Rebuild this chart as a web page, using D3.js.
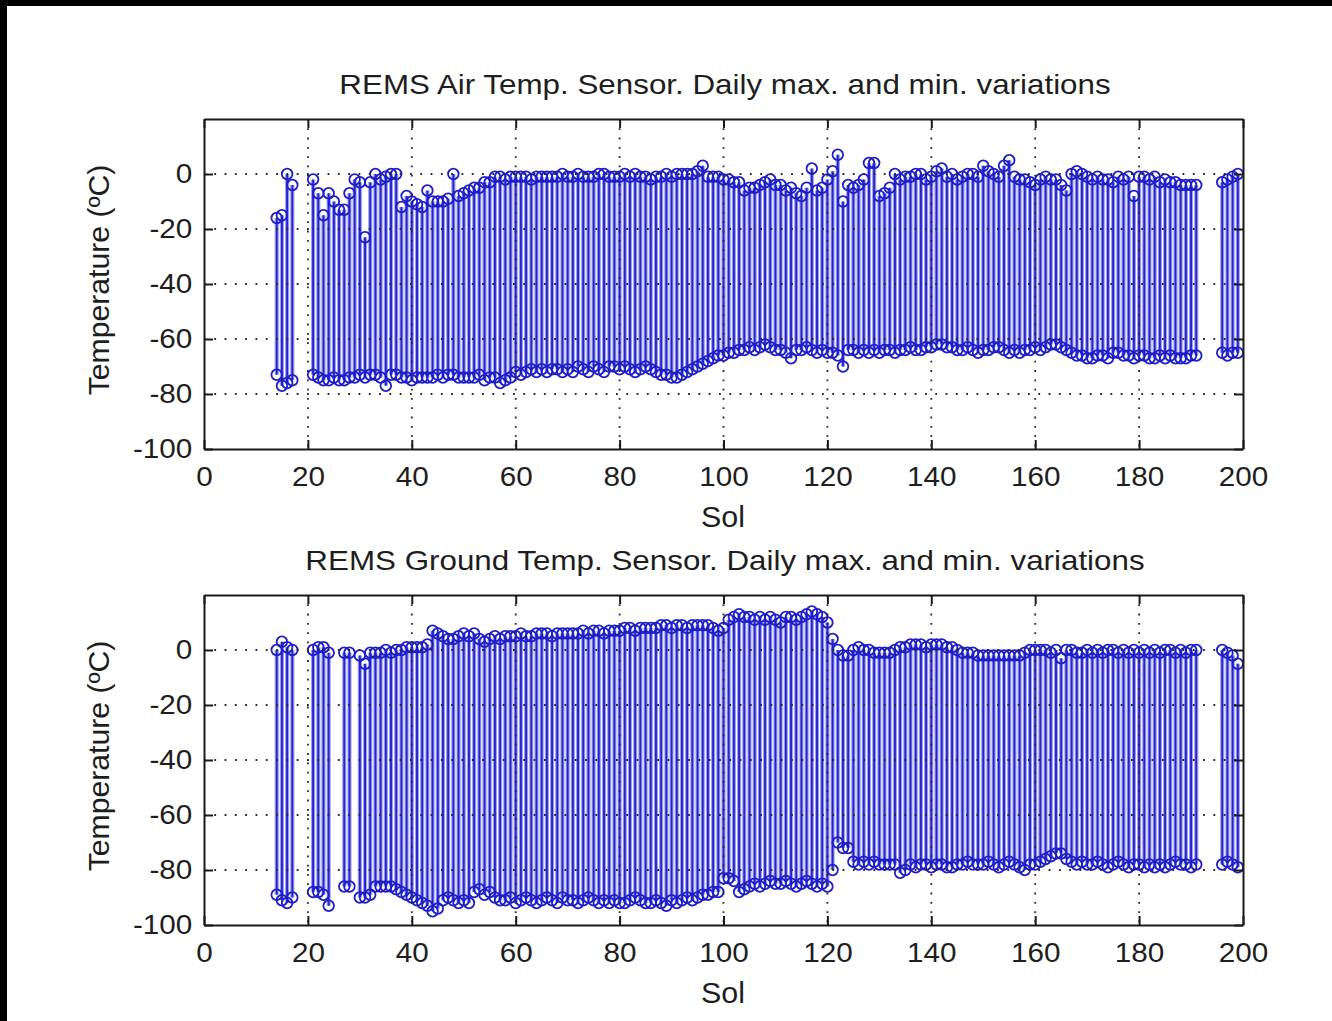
<!DOCTYPE html>
<html>
<head>
<meta charset="utf-8">
<script src="https://cdn.jsdelivr.net/npm/d3@7"></script>
<style>
  html, body { margin: 0; padding: 0; background: #000; }
  svg { display: block; }
  text { font-family: "Liberation Sans", Arial, sans-serif; fill: #1e1e1e; }
</style>
</head>
<body>
<svg id="chart" width="1332" height="1021"></svg>
<script>
// sols with data, as [first, last] runs
var airRuns = [[14, 17], [21, 191], [196, 199]];
var groundRuns = [[14, 17], [21, 24], [27, 28], [30, 191], [196, 199]];

// REMS air temperature, daily max (degC), one value per sol in airRuns order
var airMax = [
	-16, -15, 0, -4,
	-2, -7, -15, -7, -10, -13, -13, -7, -2, -3,          // 21-30
	-23, -3, 0, -2, -1, 0, 0, -12, -8, -10,              // 31-40
	-11, -12, -6, -10, -10, -10, -9, 0, -8, -7,          // 41-50
	-6, -5, -5, -3, -3, -1, -1, -2, -1, -1,              // 51-60
	-1, -1, -2, -1, -1, -1, -1, -1, 0, -1,               // 61-70
	-1, 0, -1, -1, -1, 0, 0, -1, -1, -1,                 // 71-80
	0, -1, 0, -1, -1, -2, -1, -1, 0, -1,                 // 81-90
	0, 0, 0, 0, 1, 3, -1, -1, -1, -2,                    // 91-100
	-2, -3, -3, -6, -5, -5, -4, -3, -2, -4,              // 101-110
	-4, -6, -5, -7, -8, -5, 2, -6, -5, -2,               // 111-120
	1, 7, -10, -4, -5, -4, -2, 4, 4, -8,                 // 121-130
	-7, -5, 0, -2, -1, -1, 0, 0, -2, -1,                 // 131-140
	1, 2, -1, 0, -2, -1, 0, 0, -1, 3,                    // 141-150
	1, 0, -1, 3, 5, -1, -2, -2, -3, -4,                  // 151-160
	-2, -1, -2, -2, -4, -6, 0, 1, 0, -1,                 // 161-170
	-2, -1, -2, -2, -3, -1, -2, -1, -8, -1,              // 171-180
	-1, -2, -1, -3, -2, -3, -3, -4, -4, -4,              // 181-190
	-4,
	-3, -2, -1, 0
];
// REMS air temperature, daily min (degC)
var airMin = [
	-73, -77, -76, -75,
	-73, -74, -75, -75, -74, -75, -75, -74, -74, -73,
	-74, -73, -73, -74, -77, -73, -73, -74, -74, -75,
	-74, -74, -74, -74, -73, -74, -73, -73, -74, -74,
	-74, -74, -73, -75, -74, -74, -76, -75, -74, -72,
	-73, -72, -71, -72, -71, -72, -71, -71, -72, -71,
	-72, -70, -71, -72, -70, -71, -72, -70, -70, -71,
	-70, -71, -72, -71, -70, -71, -72, -73, -73, -74,
	-74, -73, -72, -71, -70, -69, -68, -67, -66, -66,
	-65, -65, -64, -64, -63, -64, -63, -62, -63, -64,
	-64, -65, -67, -64, -64, -63, -64, -65, -64, -65,
	-65, -66, -70, -64, -64, -65, -64, -65, -64, -65,
	-64, -64, -65, -64, -64, -63, -64, -64, -63, -63,
	-62, -62, -63, -63, -64, -64, -63, -64, -65, -64,
	-64, -63, -63, -64, -65, -64, -65, -64, -64, -63,
	-64, -63, -62, -62, -63, -64, -65, -66, -66, -67,
	-67, -66, -66, -67, -65, -65, -66, -66, -67, -66,
	-66, -67, -67, -66, -67, -66, -67, -67, -67, -66,
	-66,
	-65, -66, -65, -65
];

// REMS ground temperature, daily max (degC), one value per sol in groundRuns order
var groundMax = [
	0, 3, 1, 0,
	0, 1, 1, -1,
	-1, -1,
	-2, -5, -1, -1, -1, 0, -1, 0, 0, 1, 1,               // 30-40
	1, 1, 2, 7, 6, 5, 4, 4, 5, 6,                        // 41-50
	5, 6, 4, 3, 4, 5, 4, 5, 5, 5,                        // 51-60
	6, 5, 5, 6, 6, 6, 5, 6, 6, 6,                        // 61-70
	6, 6, 7, 6, 7, 7, 6, 7, 7, 7,                        // 71-80
	8, 8, 7, 8, 8, 8, 8, 9, 9, 8,                        // 81-90
	9, 9, 8, 9, 9, 9, 9, 8, 7, 8,                        // 91-100
	11, 12, 13, 12, 12, 11, 12, 11, 12, 11,              // 101-110
	10, 12, 12, 11, 12, 13, 14, 13, 12, 10,              // 111-120
	4, 0, -2, -2, 0, 1, 0, 0, -1, -1,                    // 121-130
	-1, -1, 0, 1, 1, 2, 2, 2, 1, 2,                      // 131-140
	2, 2, 1, 1, 0, -1, -1, -1, -2, -2,                   // 141-150
	-2, -2, -2, -2, -2, -2, -2, -1, 0, 0,                // 151-160
	0, 0, -1, 0, -3, 0, 0, -1, -1, 0,                    // 161-170
	-1, 0, -1, 0, 0, -1, 0, -1, 0, -1,                   // 171-180
	0, -1, 0, -1, 0, 0, -1, 0, -1, 0,                    // 181-190
	0,
	0, -1, -2, -5
];
// REMS ground temperature, daily min (degC)
var groundMin = [
	-89, -91, -92, -90,
	-88, -88, -89, -93,
	-86, -86,
	-90, -90, -89, -86, -86, -86, -86, -87, -88, -89, -90,
	-91, -92, -93, -95, -94, -91, -90, -91, -92, -91,
	-92, -88, -87, -89, -88, -90, -91, -91, -90, -92,
	-91, -90, -91, -92, -91, -90, -91, -92, -90, -91,
	-91, -92, -91, -90, -91, -92, -91, -92, -91, -92,
	-92, -91, -90, -91, -92, -92, -91, -92, -93, -91,
	-92, -91, -90, -91, -90, -89, -89, -88, -88, -83,
	-83, -84, -88, -87, -86, -85, -86, -85, -84, -85,
	-85, -84, -85, -86, -85, -84, -85, -86, -85, -86,
	-80, -70, -72, -72, -77, -78, -77, -78, -77, -78,
	-78, -78, -78, -81, -80, -78, -79, -78, -78, -79,
	-78, -78, -79, -79, -78, -78, -77, -78, -78, -78,
	-77, -78, -79, -78, -77, -78, -79, -80, -78, -78,
	-77, -76, -75, -74, -74, -76, -77, -78, -77, -78,
	-78, -77, -78, -79, -78, -77, -78, -79, -78, -78,
	-79, -78, -79, -78, -79, -78, -77, -78, -78, -79,
	-78,
	-78, -77, -78, -79
];

var xTicks = [0, 20, 40, 60, 80, 100, 120, 140, 160, 180, 200];
var yTicks = [-100, -80, -60, -40, -20, 0];
var xGrid = [20, 40, 60, 80, 100, 120, 140, 160, 180];
var yGrid = [-80, -60, -40, -20, 0];

var svg = d3.select('#chart');

//white page with the thin black edge on top and left
svg.append('rect').attr('width', 1332).attr('height', 1021).attr('fill', '#000');
svg.append('rect').attr('x', 7).attr('y', 6).attr('width', 1325).attr('height', 1015).attr('fill', '#fff');

var panels = [
	{title: 'REMS Air Temp. Sensor. Daily max. and min. variations', top: 119, bottom: 449,
		runs: airRuns, max: airMax, min: airMin},
	{title: 'REMS Ground Temp. Sensor. Daily max. and min. variations', top: 595, bottom: 925,
		runs: groundRuns, max: groundMax, min: groundMin}
];

function addText(g, x, y, str, size, sx, anchor, rotate) {
	var t = 'translate(' + x + ',' + y + ')';
	if (rotate) t += ' rotate(-90)';
	t += ' scale(' + sx + ',1)';
	return g.append('text')
		.attr('transform', t)
		.attr('text-anchor', anchor)
		.style('font-size', size + 'px')
		.text(str);
}

panels.forEach(function(p) {
	var g = svg.append('g');
	var x = d3.scaleLinear().domain([0, 200]).range([204, 1243]);
	var y = d3.scaleLinear().domain([-100, 20]).range([p.bottom, p.top]);

	//one row per sol
	var rows = [];
	var k = 0;
	p.runs.forEach(function(r) {
		d3.range(r[0], r[1] + 1).forEach(function(s) {
			rows.push({sol: s, max: p.max[k], min: p.min[k]});
			k++;
		});
	});

	//light band behind each day's line
	g.selectAll('.band').data(rows).enter().append('rect')
		.attr('class', 'band')
		.attr('x', function(d) { return x(d.sol) - 2.1; })
		.attr('width', 4.2)
		.attr('y', function(d) { return y(d.max); })
		.attr('height', function(d) { return y(d.min) - y(d.max); })
		.attr('fill', '#a0a0ef');

	g.selectAll('.stem').data(rows).enter().append('line')
		.attr('class', 'stem')
		.attr('x1', function(d) { return x(d.sol); })
		.attr('x2', function(d) { return x(d.sol); })
		.attr('y1', function(d) { return y(d.max); })
		.attr('y2', function(d) { return y(d.min); })
		.attr('stroke', '#2424d0')
		.attr('stroke-width', 1.9);

	['max', 'min'].forEach(function(key) {
		g.selectAll('.mk-' + key).data(rows).enter().append('circle')
			.attr('class', 'mk-' + key)
			.attr('cx', function(d) { return x(d.sol); })
			.attr('cy', function(d) { return y(d[key]); })
			.attr('r', 5.3)
			.attr('fill', 'none')
			.attr('stroke', '#1e1ec8')
			.attr('stroke-width', 1.8);
	});

	//dotted grid
	g.selectAll('.gx').data(xGrid).enter().append('line')
		.attr('x1', function(d) { return x(d); })
		.attr('x2', function(d) { return x(d); })
		.attr('y1', p.top).attr('y2', p.bottom)
		.attr('stroke', '#2a2a2a').attr('stroke-width', 1.8)
		.attr('stroke-dasharray', '1.8,7.5');
	g.selectAll('.gy').data(yGrid).enter().append('line')
		.attr('y1', function(d) { return y(d); })
		.attr('y2', function(d) { return y(d); })
		.attr('x1', 204).attr('x2', 1243)
		.attr('stroke', '#2a2a2a').attr('stroke-width', 1.8)
		.attr('stroke-dasharray', '1.8,8.5');

	//box with inward ticks on all four sides
	var fmt = function(d) { return String(d); };
	var bottomAxis = d3.axisBottom(x).tickValues(xTicks).tickSizeInner(-9).tickSizeOuter(0).tickPadding(17).tickFormat(fmt);
	var topAxis = d3.axisTop(x).tickValues(xTicks).tickSizeInner(-9).tickSizeOuter(0).tickFormat('');
	var leftAxis = d3.axisLeft(y).tickValues(yTicks).tickSizeInner(-9).tickSizeOuter(0).tickPadding(11).tickFormat(fmt);
	var rightAxis = d3.axisRight(y).tickValues(yTicks).tickSizeInner(-9).tickSizeOuter(0).tickFormat('');

	var axes = [
		g.append('g').attr('transform', 'translate(0,' + p.bottom + ')').call(bottomAxis),
		g.append('g').attr('transform', 'translate(0,' + p.top + ')').call(topAxis),
		g.append('g').attr('transform', 'translate(204,0)').call(leftAxis),
		g.append('g').attr('transform', 'translate(1243,0)').call(rightAxis)
	];
	axes.forEach(function(a) {
		a.select('.domain').attr('stroke', '#1a1a1a').attr('stroke-width', 2);
		a.selectAll('.tick line').attr('stroke', '#1a1a1a').attr('stroke-width', 2);
		a.selectAll('.tick text')
			.attr('fill', '#1e1e1e')
			.style('font-family', '"Liberation Sans", Arial, sans-serif')
			.style('font-size', '28px')
			.attr('transform', 'scale(1.06,1)');
	});

	addText(g, 725, p.top - 25, p.title, 28, 1.12, 'middle', false);
	addText(g, 723, p.bottom + 78, 'Sol', 29, 1.05, 'middle', false);
	addText(g, 109, (p.top + p.bottom) / 2 - 4, 'Temperature (\u00baC)', 29, 1.04, 'middle', true);
});
</script>
</body>
</html>
